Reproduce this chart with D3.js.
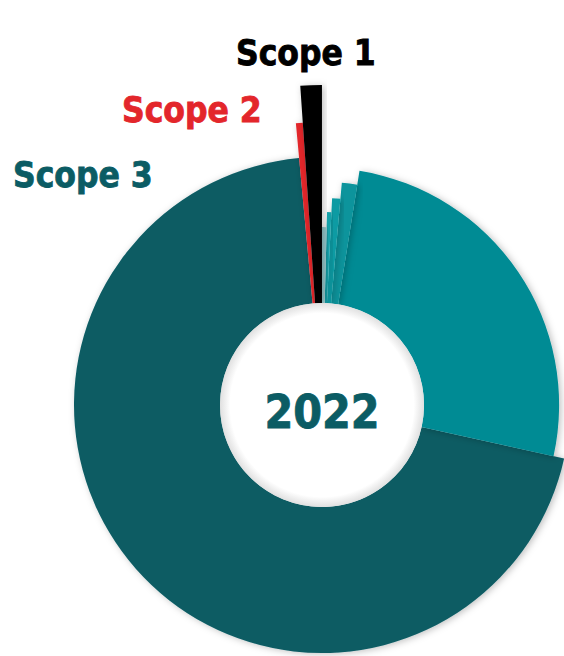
<!DOCTYPE html>
<html>
<head>
<meta charset="utf-8">
<script src="https://cdn.jsdelivr.net/npm/d3@7"></script>
<style>
  body { margin: 0; background: #fff; }
  svg { display: block; }
  text { font-family: "DejaVu Sans Condensed", "DejaVu Sans", sans-serif; font-weight: bold; }
</style>
</head>
<body>
<div id="chart"></div>
<script>
// slices in drawing order (clockwise, starting just left of 12 o'clock)
const slices = ["Scope 2", "Scope 1", "S3 f", "S3 e", "S3 d", "S3 c", "S3 b", "S3 a"];
// share of total emissions (%)
const shares = [0.39, 1.08, 0.42, 0.36, 0.64, 1.11, 25.94, 70.06];
// relative length of each wedge (outer radius index)
const depth = [88.4, 100, 55.6, 60.3, 64.7, 69.7, 74.1, 77.5];
const colors = ["#e3262b", "#000000", "#93c6c9", "#14a2aa", "#0d9ba3", "#07949c", "#008b94", "#0b5c64"];

const scopeLabels = ["Scope 1", "Scope 2", "Scope 3"];
const scopeColors = ["#000000", "#e3262b", "#0b5c64"];
const yearLabel = "2022";

const width = 564, height = 656;
const cx = 322, cy = 405;
const innerR = 102;

const svg = d3.select("#chart")
  .append("svg")
  .attr("width", width)
  .attr("height", height);

////////// shadow //////////
const defs = svg.append("defs");
defs.append("filter")
  .attr("id", "shadow")
  .attr("x", "-20%").attr("y", "-20%")
  .attr("width", "140%").attr("height", "140%")
  .append("feDropShadow")
  .attr("dx", 2).attr("dy", 1)
  .attr("stdDeviation", 3.5)
  .attr("flood-color", "#000")
  .attr("flood-opacity", 0.25);

const holeGrad = defs.append("radialGradient").attr("id", "hole");
holeGrad.append("stop").attr("offset", "90%").attr("stop-color", "#ffffff");
holeGrad.append("stop").attr("offset", "100%").attr("stop-color", "#e0e0e0");

////////// donut //////////
const rScale = d3.scaleLinear().domain([0, 100]).range([0, 320]);

const deg = Math.PI / 180;
const pie = d3.pie()
  .sort(null)
  .value(d => d.share)
  .startAngle(-5.3 * deg)
  .endAngle(354.7 * deg);

const data = slices.map((s, i) => ({ name: s, share: shares[i], depth: depth[i], color: colors[i] }));

const arc = d3.arc()
  .innerRadius(innerR)
  .outerRadius(d => rScale(d.data.depth));

const g = svg.append("g")
  .attr("transform", "translate(" + cx + "," + cy + ")");

// big slices first so the thin ones sit on top
const arcs = pie(data);
const order = [7, 6, 5, 4, 3, 2, 0, 1];

g.selectAll("path")
  .data(order.map(i => arcs[i]))
  .enter()
  .append("path")
  .attr("d", arc)
  .attr("fill", d => d.data.color)
  .attr("filter", "url(#shadow)");

g.append("circle")
  .attr("r", innerR)
  .attr("fill", "url(#hole)");

g.append("text")
  .attr("text-anchor", "middle")
  .attr("y", 23)
  .attr("font-size", 46)
  .attr("fill", "#0b5c64")
  .attr("stroke", "#0b5c64")
  .attr("stroke-width", 0.8)
  .text(yearLabel);

////////// labels //////////
const labelPos = [[236, 65], [122, 122], [13, 187]];
svg.selectAll(".scope")
  .data(scopeLabels)
  .enter()
  .append("text")
  .attr("class", "scope")
  .attr("x", (d, i) => labelPos[i][0])
  .attr("y", (d, i) => labelPos[i][1])
  .attr("font-size", 35)
  .attr("fill", (d, i) => scopeColors[i])
  .attr("stroke", (d, i) => scopeColors[i])
  .attr("stroke-width", 0.8)
  .text(d => d);
</script>
</body>
</html>
